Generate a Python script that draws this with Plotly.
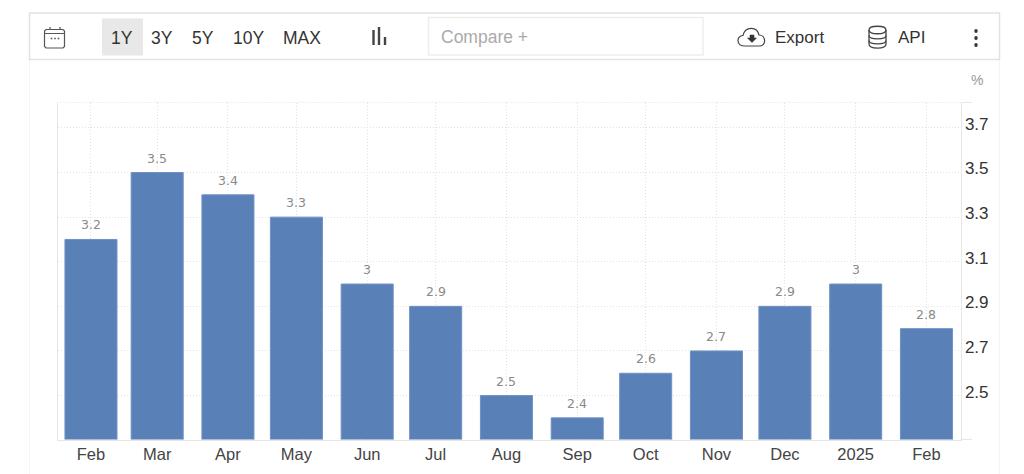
import plotly.graph_objects as go

# ---- data ----
dates = ["2024-02-01", "2024-03-01", "2024-04-01", "2024-05-01", "2024-06-01", "2024-07-01", "2024-08-01",
         "2024-09-01", "2024-10-01", "2024-11-01", "2024-12-01", "2025-01-01", "2025-02-01"]
tick_labels = ["Feb", "Mar", "Apr", "May", "Jun", "Jul", "Aug", "Sep", "Oct", "Nov", "Dec", "2025", "Feb"]
values = [3.2, 3.5, 3.4, 3.3, 3.0, 2.9, 2.5, 2.4, 2.6, 2.7, 2.9, 3.0, 2.8]
y_ticks = [2.5, 2.7, 2.9, 3.1, 3.3, 3.5, 3.7]
range_buttons = ["1Y", "3Y", "5Y", "10Y", "MAX"]

W, H = 1024, 474
FONT = "Liberation Sans, Arial, sans-serif"
DAY = 86400000
L, R, T, B = 57.5, 960.5, 102.5, 439.5


def X(x):
    return x / W


def Y(y):
    return 1 - y / H


def path(*cmds):
    out = []
    for c in cmds:
        if isinstance(c, str):
            out.append(c)
        else:
            out.append(f"{X(c[0]):.5f},{Y(c[1]):.5f}")
    return " ".join(out)


shapes = []
annots = []


def rect(x0, y0, x1, y1, fill="rgba(0,0,0,0)", line=None, lw=1):
    shapes.append(dict(type="rect", xref="paper", yref="paper", x0=X(x0), x1=X(x1), y0=Y(y0), y1=Y(y1),
                       fillcolor=fill, line=dict(color=line or "rgba(0,0,0,0)", width=lw if line else 0), layer="below"))


def seg(x0, y0, x1, y1, color, lw=1, dash="solid"):
    shapes.append(dict(type="line", xref="paper", yref="paper", x0=X(x0), x1=X(x1), y0=Y(y0), y1=Y(y1),
                       line=dict(color=color, width=lw, dash=dash), layer="below"))


def svg(p, color="#444", lw=1.2, fill="rgba(0,0,0,0)"):
    shapes.append(dict(type="path", xref="paper", yref="paper", path=p, line=dict(color=color, width=lw),
                       fillcolor=fill, layer="above"))


def txt(x, y, s, size=16, color="#333", anchor="left"):
    annots.append(dict(xref="paper", yref="paper", x=X(x), y=Y(y), text=s, showarrow=False, xanchor=anchor,
                       yanchor="middle", font=dict(family=FONT, size=size, color=color)))


# outer panel
seg(29.5, 60, 29.5, 474, "#f4f4f4", 1)
seg(999.5, 60, 999.5, 474, "#f4f4f4", 1)
# toolbar
rect(29.5, 13, 999.5, 59.5, fill="#ffffff", line="#e2e2e2", lw=1.5)
rect(102, 18.5, 143, 55.5, fill="#e8e8e8")
for b, xc in zip(range_buttons, [122, 162, 202.5, 248, 302]):
    txt(xc, 38, b, size=17.5, color="#333", anchor="center")
rect(428.5, 17.5, 703, 55, fill="#ffffff", line="#eeeee9", lw=1.5)
txt(438.5, 36.5, "Compare +", size=17.5, color="#aaaaaa")
txt(773, 37, "Export", size=17, color="#333")
txt(896, 37, "API", size=17, color="#333")
txt(977, 80, "%", size=14, color="#999999", anchor="center")

# calendar icon
svg(path("M", (46, 29.5), "L", (63, 29.5), "L", (64.5, 31), "L", (64.5, 46.5), "L", (63, 48), "L", (46, 48), "L", (44.5, 46.5),
         "L", (44.5, 31), "Z"), color="#555", lw=1.2)
seg(44.5, 33.5, 64.5, 33.5, "#555", 1)
seg(50, 27, 50, 29.5, "#555", 1.2)
seg(60, 27, 60, 29.5, "#555", 1.2)
for cx in (51.5, 55, 58.5):
    seg(cx - 0.8, 38.5, cx + 0.8, 38.5, "#555", 1.6)
# bar icon
seg(373.5, 30, 373.5, 45, "#444", 2.4)
seg(379, 27, 379, 45, "#444", 2.4)
seg(385, 37, 385, 45, "#444", 2.4)
# cloud icon
svg(path("M", (745, 46), "C", (736, 46), (736, 36), (743, 35.5), "C", (745, 26), (757, 26), (759, 35), "C", (766, 35),
         (767, 46), (759, 46), "Z"), color="#444", lw=1.2)
svg(path("M", (750, 35), "L", (754, 35), "L", (754, 38), "L", (756.5, 38), "L", (752, 42.5), "L", (747.5, 38), "L", (750, 38), "Z"),
    color="#333", lw=0.5, fill="#333")
# database icon
svg(path("M", (869, 30), "C", (869, 25), (886, 25), (886, 30), "C", (886, 35), (869, 35), (869, 30), "Z"), color="#444", lw=1.3)
svg(path("M", (869, 30), "L", (869, 44), "C", (869, 49.5), (886, 49.5), (886, 44), "L", (886, 30)), color="#444", lw=1.3)
svg(path("M", (869, 35.5), "C", (869, 40), (886, 40), (886, 35.5)), color="#444", lw=1.3)
svg(path("M", (869, 40.5), "C", (869, 45), (886, 45), (886, 40.5)), color="#444", lw=1.3)
# kebab dots
for cy in (31, 38, 45):
    shapes.append(dict(type="circle", xref="paper", yref="paper", x0=X(974.3), x1=X(977.7), y0=Y(cy + 1.9), y1=Y(cy - 1.9),
                       fillcolor="#333", line=dict(width=0), layer="above"))
# axis extension lines and dotted top edge
seg(R, B, 972, B, "#e6e6e6", 1)
seg(R, T, 972, T, "#e6e6e6", 1)
seg(L, T, R, T, "#e2e2e2", 1, dash="1px,2px")

# value labels, placed by the y axis
for d, v in zip(dates, values):
    annots.append(dict(x=d, y=v, xref="x", yref="y", text=f"{v:g}", showarrow=False, yanchor="bottom", yshift=5,
                       font=dict(family="DejaVu Sans, Liberation Sans", size=12.5, color="#8a8a8a")))

fig = go.Figure(go.Bar(
    x=dates, y=values,
    width=52 / 2.281 * DAY,
    marker=dict(color="#5a80b8", line=dict(color="#6f91c6", width=1)),
    hoverinfo="skip",
))

fig.update_layout(
    width=W, height=H,
    margin=dict(l=0, r=0, t=0, b=0),
    paper_bgcolor="#ffffff", plot_bgcolor="#ffffff",
    showlegend=False,
    shapes=shapes, annotations=annots,
    xaxis=dict(
        type="date",
        domain=[X(L), X(R)],
        range=["2024-01-17 08:00", "2025-02-15 22:00"],
        tickvals=dates, ticktext=tick_labels,
        ticks="", showline=True, linecolor="#e6e6e6", linewidth=1,
        showgrid=True, gridcolor="#e2e2e2", griddash="1px,2px", gridwidth=1,
        tickfont=dict(family=FONT, size=16.5, color="#444444"),
        zeroline=False, anchor="y",
    ),
    yaxis=dict(
        side="right", domain=[Y(B), Y(T)],
        range=[2.303, 3.814],
        tickvals=y_ticks, ticktext=[f"{v:g}" for v in y_ticks],
        ticks="", showline=True, linecolor="#e6e6e6", linewidth=1, mirror=True,
        showgrid=True, gridcolor="#e2e2e2", griddash="1px,2px", gridwidth=1,
        tickfont=dict(family=FONT, size=17, color="#333333"),
        zeroline=False, anchor="x", ticklabelshift=-4,
    ),
)

fig.write_html("out.html", config=dict(displayModeBar=False),
               post_script="document.body.style.margin='0';document.documentElement.style.overflow='hidden';")
